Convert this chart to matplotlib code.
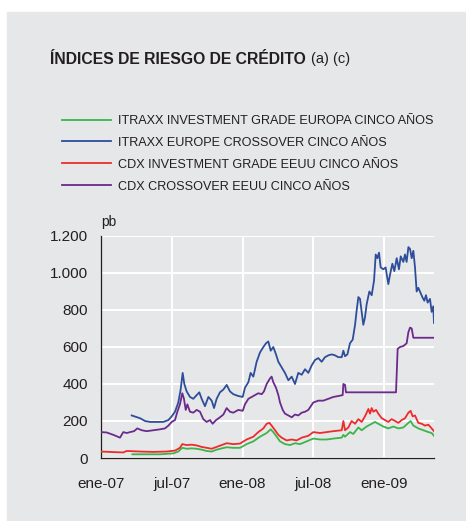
import matplotlib
matplotlib.use("Agg")
import matplotlib.pyplot as plt
from matplotlib.patches import Rectangle

plt.rcParams["font.family"] = ["Liberation Sans", "DejaVu Sans"]

# months since ene-07 for each observation, values in pb
itraxx_ig_x = [2.66, 3.87, 5.00, 6.13, 6.55, 6.89, 7.26, 7.68, 8.11, 8.53,
               8.95, 9.38, 9.80, 10.23, 10.65, 11.21, 11.78, 12.34, 12.91, 13.47,
               14.04, 14.38, 14.60, 14.89, 15.17, 15.59, 16.02, 16.44, 16.86, 17.43,
               17.99, 18.56, 19.12, 19.69, 20.40, 20.54, 20.68, 21.10, 21.38, 21.81,
               22.09, 22.51, 22.94, 23.22, 23.50, 23.93, 24.35, 24.77, 25.20, 25.62,
               26.05, 26.24, 26.47, 26.89, 27.32, 27.74, 28.02, 28.22]
itraxx_ig = [20, 20, 20, 25, 35, 55, 50, 52, 50, 45,
             38, 35, 45, 52, 58, 55, 55, 75, 90, 115,
             135, 155, 140, 115, 90, 75, 70, 80, 75, 90,
             105, 100, 100, 105, 110, 125, 115, 140, 130, 165,
             150, 170, 185, 195, 185, 170, 160, 170, 160, 165,
             190, 200, 175, 160, 150, 140, 135, 120]

itraxx_xo_x = [2.60, 3.31, 3.73, 4.15, 4.72, 5.28, 5.71, 5.99, 6.27, 6.55,
               6.75, 6.92, 7.06, 7.26, 7.54, 7.82, 8.11, 8.33, 8.53, 8.81,
               9.10, 9.38, 9.58, 9.80, 10.08, 10.37, 10.65, 10.93, 11.21, 11.64,
               12.01, 12.20, 12.49, 12.68, 12.91, 13.19, 13.47, 13.76, 13.98, 14.18,
               14.38, 14.60, 14.83, 15.03, 15.31, 15.59, 15.88, 16.16, 16.44, 16.72,
               17.01, 17.29, 17.57, 17.85, 18.14, 18.42, 18.70, 18.98, 19.27, 19.55,
               19.83, 20.11, 20.40, 20.54, 20.68, 20.88, 21.10, 21.33, 21.53, 21.67,
               21.81, 21.95, 22.09, 22.23, 22.37, 22.51, 22.74, 22.94, 23.14, 23.28,
               23.42, 23.56, 23.70, 23.93, 24.12, 24.35, 24.49, 24.69, 24.86, 25.06,
               25.25, 25.40, 25.62, 25.76, 25.90, 26.05, 26.19, 26.33, 26.47, 26.61,
               26.75, 26.89, 27.03, 27.23, 27.40, 27.54, 27.68, 27.88, 28.02, 28.16,
               28.22]
itraxx_xo = [230, 215, 200, 195, 195, 195, 205, 225, 250, 300,
             370, 460, 400, 360, 330, 320, 340, 355, 320, 280,
             330, 310, 270, 320, 355, 370, 395, 360, 345, 335,
             330, 380, 410, 460, 440, 520, 570, 600, 620, 630,
             580, 600, 560, 520, 490, 460, 420, 440, 400, 460,
             450, 480, 460, 500, 530, 540, 520, 545, 555, 560,
             555, 545, 545, 580, 550, 560, 620, 640, 720, 800,
             870, 860, 790, 720, 760, 830, 900, 880, 960, 1100,
             1080, 1110, 1030, 1020, 1030, 940, 990, 1050, 1010, 1080,
             1020, 1090, 1060, 1100, 1060, 1140, 1130, 1080, 1120, 1030,
             900, 920, 900, 870, 850, 880, 840, 860, 790, 820,
             730]

cdx_ig_x = [0.00, 1.05, 1.89, 2.18, 3.31, 4.44, 5.56, 6.27, 6.69, 6.89,
            7.26, 7.68, 8.11, 8.53, 8.95, 9.38, 9.80, 10.23, 10.65, 11.21,
            11.78, 12.34, 12.91, 13.33, 13.76, 14.04, 14.27, 14.46, 14.75, 15.03,
            15.31, 15.73, 16.16, 16.58, 17.01, 17.57, 17.99, 18.56, 19.12, 19.69,
            20.40, 20.54, 20.68, 20.96, 21.24, 21.53, 21.81, 22.09, 22.37, 22.66,
            22.80, 22.94, 23.08, 23.31, 23.50, 23.79, 24.07, 24.35, 24.63, 24.92,
            25.20, 25.48, 25.76, 26.05, 26.24, 26.41, 26.61, 26.89, 27.18, 27.46,
            27.74, 28.02, 28.22]
cdx_ig = [35, 32, 30, 38, 35, 33, 35, 40, 55, 75,
          70, 72, 68, 60, 55, 50, 60, 70, 80, 75,
          78, 100, 115, 140, 160, 185, 190, 175, 150, 125,
          110, 95, 100, 95, 110, 120, 140, 135, 140, 145,
          150, 200, 150, 165, 200, 185, 210, 195, 225, 265,
          240, 270, 250, 260, 240, 215, 205, 195, 210, 200,
          190, 205, 215, 245, 255, 225, 230, 190, 185, 175,
          180, 160, 145]

cdx_xo_x = [0.00, 0.48, 1.05, 1.61, 1.89, 2.18, 2.46, 2.80, 3.08, 3.45,
            3.87, 4.44, 5.00, 5.42, 5.71, 5.99, 6.27, 6.47, 6.69, 6.89,
            7.03, 7.18, 7.32, 7.54, 7.82, 8.11, 8.39, 8.67, 8.95, 9.24,
            9.46, 9.75, 10.08, 10.37, 10.65, 10.93, 11.21, 11.64, 12.01, 12.20,
            12.49, 12.77, 13.05, 13.33, 13.62, 13.81, 14.04, 14.32, 14.46, 14.60,
            14.83, 15.03, 15.17, 15.40, 15.59, 15.88, 16.16, 16.44, 16.72, 17.01,
            17.29, 17.57, 17.99, 18.42, 18.84, 19.27, 19.69, 20.11, 20.48, 20.54,
            20.68, 20.76, 25.00, 25.14, 25.34, 25.62, 25.90, 26.05, 26.19, 26.33,
            26.47, 28.22]
cdx_xo = [140, 138, 125, 110, 140, 135, 140, 145, 160, 150,
          145, 150, 155, 160, 175, 195, 205, 250, 290, 350,
          320, 260, 290, 250, 245, 260, 250, 210, 195, 205,
          185, 205, 220, 235, 270, 250, 245, 260, 255, 290,
          320, 330, 340, 350, 345, 360, 400, 430, 440, 410,
          380, 340, 300, 260, 240, 230, 220, 235, 230, 245,
          250, 260, 300, 310, 310, 320, 330, 335, 340, 400,
          395, 355, 355, 590, 600, 605, 620, 680, 705, 700,
          650, 650]

labels = ["ITRAXX INVESTMENT GRADE EUROPA CINCO AÑOS",
          "ITRAXX EUROPE CROSSOVER CINCO AÑOS",
          "CDX INVESTMENT GRADE EEUU CINCO AÑOS",
          "CDX CROSSOVER EEUU CINCO AÑOS"]
colors = ["#3cb44b", "#2e4d9a", "#ee2b2b", "#6b2a8c"]

x_ticks = [0, 6, 12, 18, 24]
x_tick_labels = ["ene-07", "jul-07", "ene-08", "jul-08", "ene-09"]
y_ticks = [0, 200, 400, 600, 800, 1000, 1200]
y_tick_labels = ["0", "200", "400", "600", "800", "1.000", "1.200"]

bg = "#e6e7e8"
txt = "#231f20"

fig = plt.figure(figsize=(4.66, 5.21), dpi=100)
fig.patches.append(Rectangle((7 / 466, 0), 1, 1 - 12 / 521,
                             transform=fig.transFigure, color=bg, zorder=-5))

fig.text(50 / 466, 1 - 59 / 521, "ÍNDICES DE RIESGO DE CRÉDITO", fontsize=11.3,
         fontweight="bold", color=txt, va="center", ha="left")
fig.text(311 / 466, 1 - 59 / 521, "(a) (c)", fontsize=10.5, color=txt,
         va="center", ha="left")

ax = fig.add_axes([101 / 466, 1 - 458 / 521, 333 / 466, 222 / 521])
ax.set_facecolor(bg)

series = [(itraxx_ig_x, itraxx_ig), (itraxx_xo_x, itraxx_xo),
          (cdx_ig_x, cdx_ig), (cdx_xo_x, cdx_xo)]
handles = []
for (xs, ys), c, lab in zip(series, colors, labels):
    h, = ax.plot(xs, ys, color=c, lw=1.3, label=lab, zorder=3)
    handles.append(h)

ax.set_xlim(0, 28.22)
ax.set_ylim(0, 1200)
ax.set_xticks(x_ticks)
ax.set_xticklabels(x_tick_labels)
ax.set_yticks(y_ticks)
ax.set_yticklabels(y_tick_labels)
ax.tick_params(length=0, labelsize=11, labelcolor=txt)
ax.tick_params(axis="x", pad=13.5)
ax.tick_params(axis="y", pad=9.5)
ax.grid(True, color="white", lw=1.4, zorder=1)
ax.set_axisbelow(True)
for s in ["top", "right"]:
    ax.spines[s].set_visible(False)
for s in ["left", "bottom"]:
    ax.spines[s].set_color(txt)
    ax.spines[s].set_linewidth(0.9)

ax.text(0, 1.03, "pb", transform=ax.transAxes, fontsize=10, color=txt,
        ha="left", va="bottom")

fig.legend(handles=handles, loc="upper left",
           bbox_to_anchor=(57 / 466, 1 - 110 / 521), frameon=False,
           fontsize=9.1, handlelength=3.85, handletextpad=0.6,
           labelspacing=0.78, labelcolor=txt, borderaxespad=0)

fig.savefig("out.png", dpi=100)
